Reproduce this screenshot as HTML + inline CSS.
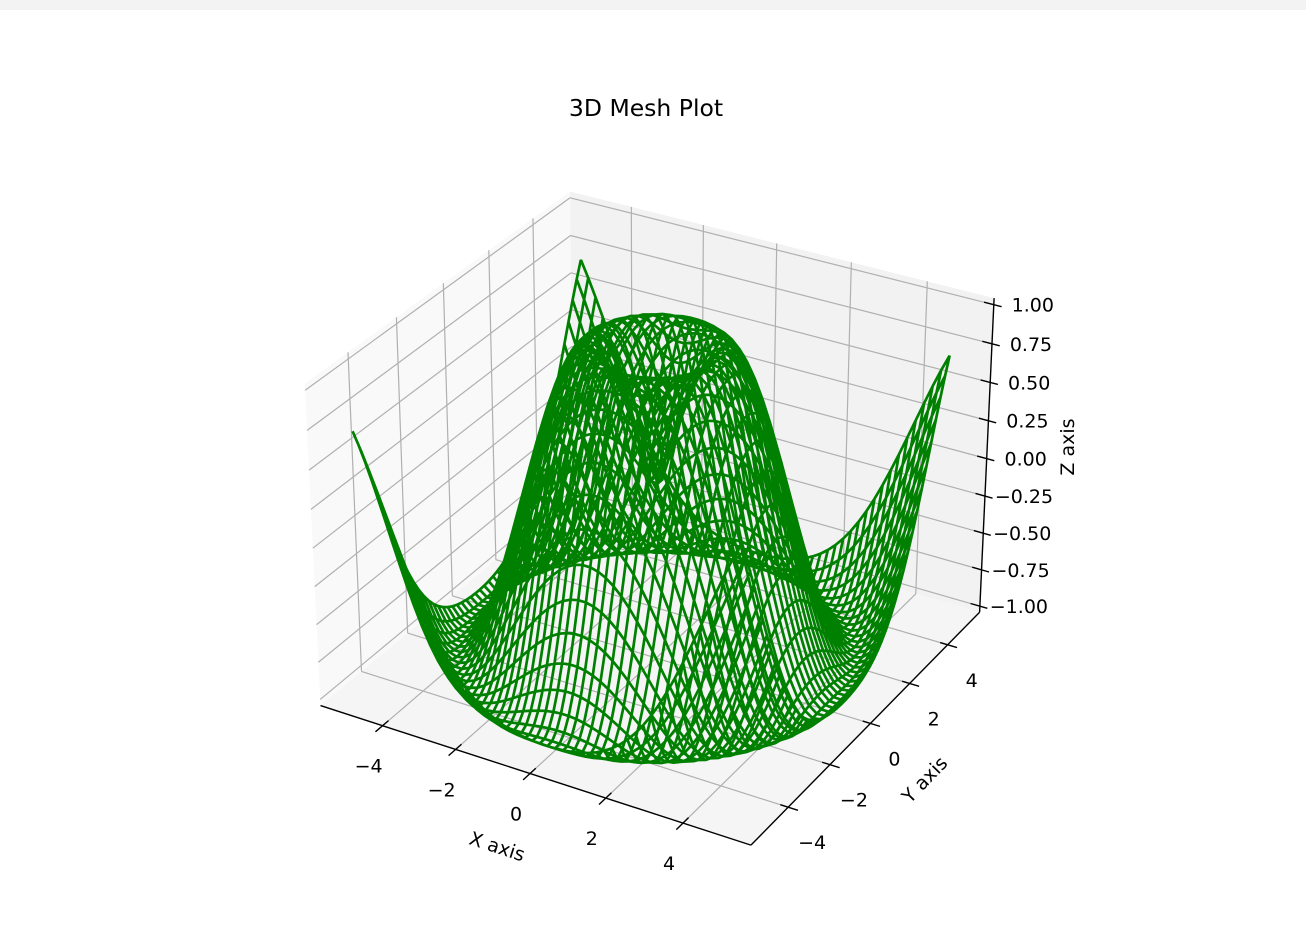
<!DOCTYPE html>
<html><head><meta charset="utf-8"><title>3D Mesh Plot</title>
<style>
html,body{margin:0;padding:0;background:#fff;}
#wrap{position:relative;width:1306px;height:951px;overflow:hidden;background:#fff;}
#topbar{position:absolute;left:0;top:0;width:1306px;height:10px;background:#f3f3f3;}
svg{position:absolute;left:0;top:0;font-family:"DejaVu Sans","Liberation Sans",sans-serif;}
</style></head>
<body>
<div id="wrap">
<div id="topbar"></div>
<svg id="chart" width="1306" height="951" viewBox="0 0 1306 951">
<text x="646" y="116" text-anchor="middle" font-size="23.5" fill="#000">3D Mesh Plot</text>
<g id="panes"></g>
<g id="grid"></g>
<g id="axes"></g>
<g id="mesh"></g>
<text x="497" y="853" text-anchor="middle" font-size="19" transform="rotate(18 497 847)">X axis</text>
<text x="925" y="786" text-anchor="middle" font-size="19" transform="rotate(-46 925 780)">Y axis</text>
<text x="1068" y="453" text-anchor="middle" font-size="19" transform="rotate(-90 1068 447)">Z axis</text>
</svg>
</div>
<script>
// ---- data ----
const gridX = [-5,-4.795918,-4.591837,-4.387755,-4.183673,-3.979592,-3.77551,-3.571429,-3.367347,-3.163265,-2.959184,-2.755102,-2.55102,-2.346939,-2.142857,-1.938776,-1.734694,-1.530612,-1.326531,-1.122449,-0.918367,-0.714286,-0.510204,-0.306122,-0.102041,0.102041,0.306122,0.510204,0.714286,0.918367,1.122449,1.326531,1.530612,1.734694,1.938776,2.142857,2.346939,2.55102,2.755102,2.959184,3.163265,3.367347,3.571429,3.77551,3.979592,4.183673,4.387755,4.591837,4.795918,5];
const gridY = gridX.slice();
const xTicks = [-4,-2,0,2,4];
const yTicks = [-4,-2,0,2,4];
const zTicks = [-1,-0.75,-0.5,-0.25,0,0.25,0.5,0.75,1];
const zTickLabels = ["\u22121.00","\u22120.75","\u22120.50","\u22120.25","0.00","0.25","0.50","0.75","1.00"];
const xTickLabels = ["\u22124","\u22122","0","2","4"];
const yTickLabels = ["\u22124","\u22122","0","2","4"];
const xlim=[-5.5,5.5], ylim=[-5.5,5.5], zlim=[-1,1];

// ---- projection (matplotlib-like, elev 30, azim -60) ----
const NS="http://www.w3.org/2000/svg";
let asp=[4,4,3]; const nr=Math.hypot(...asp); asp=asp.map(a=>a*1.8294640721620434/nr);
const el=30*Math.PI/180, az=-60*Math.PI/180, dist=10;
const Rc=asp.map(a=>a/2);
const ps=[Math.cos(el)*Math.cos(az),Math.cos(el)*Math.sin(az),Math.sin(el)];
const eye=Rc.map((r,i)=>r+dist*ps[i]);
const wv=ps;
function cross(a,b){return [a[1]*b[2]-a[2]*b[1],a[2]*b[0]-a[0]*b[2],a[0]*b[1]-a[1]*b[0]];}
function norm(a){const n=Math.hypot(...a);return a.map(v=>v/n);}
const uv=norm(cross([0,0,1],wv)); const vv=cross(wv,uv);
function dot(a,b){return a[0]*b[0]+a[1]*b[1]+a[2]*b[2];}
function rawProj(x,y,z){
  const p=[(x-xlim[0])/(xlim[1]-xlim[0])*asp[0],(y-ylim[0])/(ylim[1]-ylim[0])*asp[1],(z-zlim[0])/(zlim[1]-zlim[0])*asp[2]];
  const d=[p[0]-eye[0],p[1]-eye[1],p[2]-eye[2]];
  const q=-dot(wv,d);
  return [dot(uv,d)/q,dot(vv,d)/q];
}
const bx=[xlim[0]-(xlim[1]-xlim[0])/48,xlim[1]+(xlim[1]-xlim[0])/48];
const by=[ylim[0]-(ylim[1]-ylim[0])/48,ylim[1]+(ylim[1]-ylim[0])/48];
const bz=[zlim[0]-(zlim[1]-zlim[0])/48,zlim[1]+(zlim[1]-zlim[0])/48];
const cal=[[bx[0],by[0],bz[0],320,706],[bx[1],by[0],bz[0],752,845],[bx[1],by[1],bz[0],978,612],
           [bx[1],by[1],bz[1],995,295],[bx[0],by[0],bz[1],305,385],[bx[0],by[1],bz[1],570,193]];
function fit(idx){let n=0,sp=0,ss=0,spp=0,sps=0;
  cal.forEach(c=>{const p=rawProj(c[0],c[1],c[2])[idx];const s=c[3+idx];n++;sp+=p;ss+=s;spp+=p*p;sps+=p*s;});
  const a=(n*sps-sp*ss)/(n*spp-sp*sp);return [a,(ss-a*sp)/n];}
const fx=fit(0), fy=fit(1);
function P(x,y,z){const r=rawProj(x,y,z);return [fx[0]*r[0]+fx[1],fy[0]*r[1]+fy[1]];}
function pts(arr){return arr.map(p=>p[0].toFixed(2)+","+p[1].toFixed(2)).join(" ");}

function poly(g,arr,fill,name){const e=document.createElementNS(NS,'polygon');e.setAttribute('points',pts(arr));e.setAttribute('fill',fill);
  
  
  g.appendChild(e);}
function line(g,a,b,col,w,name){const e=document.createElementNS(NS,'line');
  e.setAttribute('x1',a[0]);e.setAttribute('y1',a[1]);e.setAttribute('x2',b[0]);e.setAttribute('y2',b[1]);
  e.setAttribute('stroke',col);e.setAttribute('stroke-width',w);
  
  
  g.appendChild(e);}
function txt(g,x,y,s,anchor,name){const e=document.createElementNS(NS,'text');e.setAttribute('x',x);e.setAttribute('y',y);
  e.setAttribute('text-anchor',anchor);e.setAttribute('font-size','19');e.textContent=s;
  
  
  g.appendChild(e);}

const gP=document.getElementById('panes'),gG=document.getElementById('grid'),gA=document.getElementById('axes'),gM=document.getElementById('mesh');
poly(gP,[P(bx[0],by[0],bz[0]),P(bx[0],by[1],bz[0]),P(bx[0],by[1],bz[1]),P(bx[0],by[0],bz[1])],'#f9f9f9','left-pane');
poly(gP,[P(bx[0],by[1],bz[0]),P(bx[1],by[1],bz[0]),P(bx[1],by[1],bz[1]),P(bx[0],by[1],bz[1])],'#f2f2f2','back-pane');
poly(gP,[P(bx[0],by[0],bz[0]),P(bx[1],by[0],bz[0]),P(bx[1],by[1],bz[0]),P(bx[0],by[1],bz[0])],'#f5f5f5','floor-pane');
const gc='#b0b0b0', gw=1.2;
xTicks.forEach(t=>{line(gG,P(t,by[0],bz[0]),P(t,by[1],bz[0]),gc,gw,'x-grid-floor');line(gG,P(t,by[1],bz[0]),P(t,by[1],bz[1]),gc,gw,'x-grid-back');});
yTicks.forEach(t=>{line(gG,P(bx[0],t,bz[0]),P(bx[1],t,bz[0]),gc,gw,'y-grid-floor');line(gG,P(bx[0],t,bz[0]),P(bx[0],t,bz[1]),gc,gw,'y-grid-left');});
zTicks.forEach(t=>{line(gG,P(bx[0],by[0],t),P(bx[0],by[1],t),gc,gw,'z-grid-left');line(gG,P(bx[0],by[1],t),P(bx[1],by[1],t),gc,gw,'z-grid-back');});
line(gA,P(bx[0],by[0],bz[0]),P(bx[1],by[0],bz[0]),'#000',1.4,'x-axis-line');
line(gA,P(bx[1],by[0],bz[0]),P(bx[1],by[1],bz[0]),'#000',1.4,'y-axis-line');
line(gA,P(bx[1],by[1],bz[0]),P(bx[1],by[1],bz[1]),'#000',1.4,'z-axis-line');
xTicks.forEach((t,i)=>{const a=P(t,by[0]+0.25,bz[0]),b=P(t,by[0]-0.3,bz[0]);line(gA,a,b,'#000',1.4,'x-tick');
  const c=P(t,by[0],bz[0]);txt(gA,c[0]-14,c[1]+47,xTickLabels[i],'middle','x-tick-label');});
yTicks.forEach((t,i)=>{const a=P(bx[1]-0.2,t,bz[0]),b=P(bx[1]+0.25,t,bz[0]);line(gA,a,b,'#000',1.4,'y-tick');
  const c=P(bx[1],t,bz[0]);txt(gA,c[0]+24,c[1]+42,yTickLabels[i],'middle','y-tick-label');});
zTicks.forEach((t,i)=>{const a=P(bx[1]-0.25,by[1],t),b=P(bx[1]+0.2,by[1],t);line(gA,a,b,'#000',1.4,'z-tick');
  const c=P(bx[1],by[1],t);txt(gA,c[0]+39,c[1]+7,zTickLabels[i],'middle','z-tick-label');});
function zf(x,y){return Math.sin(Math.sqrt(x*x+y*y));}
let d='';
gridY.forEach(y=>{d+='M'+gridX.map(x=>{const p=P(x,y,zf(x,y));return p[0].toFixed(2)+' '+p[1].toFixed(2);}).join('L');});
gridX.forEach(x=>{d+='M'+gridY.map(y=>{const p=P(x,y,zf(x,y));return p[0].toFixed(2)+' '+p[1].toFixed(2);}).join('L');});
const m=document.createElementNS(NS,'path');m.setAttribute('d',d);m.setAttribute('fill','none');m.setAttribute('stroke','#008000');
m.setAttribute('stroke-width','2.7');m.setAttribute('stroke-linejoin','round');


gM.appendChild(m);
</script>
</body></html>
